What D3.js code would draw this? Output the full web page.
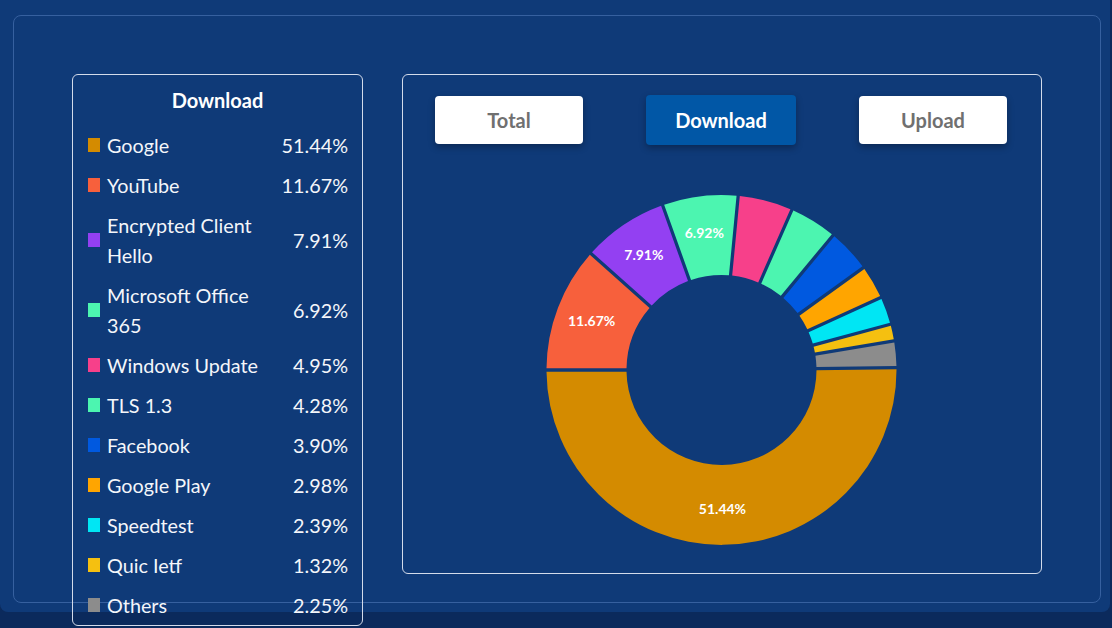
<!DOCTYPE html>
<html>
<head>
<meta charset="utf-8">
<script src="https://cdn.jsdelivr.net/npm/d3@7"></script>
<style>
  body { margin: 0; width: 1112px; height: 628px; background: #0b2a5c; font-family: Lato, "Open Sans", sans-serif; overflow: hidden; position: relative; }
  .card { position: absolute; left: 0; top: 0; width: 1110px; height: 612px; background: #0f3a78; border-radius: 0 0 8px 8px; }
  .inner { position: absolute; left: 13px; top: 15px; width: 1088px; height: 588px; border: 1px solid #36609f; border-radius: 8px; box-sizing: border-box; }
  .legend { position: absolute; left: 72px; top: 74px; width: 291px; height: 552px; border: 1px solid #d3dbea; border-radius: 6px; box-sizing: border-box; color: #f4f6fa; }
  .legend .title { text-align: center; font-weight: 700; font-size: 20px; line-height: 30px; margin-top: 10px; margin-bottom: 15px; color: #fff; }
  .legend .row { display: flex; align-items: center; margin-bottom: 10px; font-size: 19.8px; line-height: 30px; }
  .legend .sw { width: 12px; height: 14px; margin-left: 15px; margin-right: 7px; flex: none; }
  .legend .name { width: 166px; flex: none; }
  .legend .val { flex: 1; text-align: right; padding-right: 14px; }
  .chartbox { position: absolute; left: 402px; top: 74px; width: 640px; height: 500px; border: 1px solid #d3dbea; border-radius: 6px; box-sizing: border-box; }
  .btn { position: absolute; display: flex; align-items: center; justify-content: center; font-weight: 700; font-size: 20px; border-radius: 4px; box-shadow: 0 3px 7px rgba(0,0,0,0.3); background: #fff; color: #707070; }
  .btn.active { background: #0157a6; color: #fff; }
  svg { position: absolute; left: 0; top: 0; }
</style>
</head>
<body>
<div class="card"></div>
<div class="inner"></div>
<div class="legend"></div>
<div class="chartbox"></div>
<script>
const categories = ["Google", "YouTube", "Encrypted Client Hello", "Microsoft Office 365", "Windows Update", "TLS 1.3", "Facebook", "Google Play", "Speedtest", "Quic Ietf", "Others"];
const values = [51.44, 11.67, 7.91, 6.92, 4.95, 4.28, 3.90, 2.98, 2.39, 1.32, 2.25];
const colors = ["#d48b00", "#f7603c", "#9340f2", "#4cf5b0", "#f7408a", "#4cf5b0", "#0059e0", "#ffa500", "#00e6f4", "#f5c010", "#8c8c8c"];
const buttons = ["Total", "Download", "Upload"];
const activeButton = "Download";

const data = categories.map((c, i) => ({ name: c, value: values[i], color: colors[i] }));

// Legend
const legend = d3.select(".legend");
legend.append("div").attr("class", "title").text(activeButton);
const rows = legend.selectAll(".row")
    .data(data)
    .enter()
    .append("div")
    .attr("class", "row");
rows.append("div").attr("class", "sw").style("background", d => d.color);
rows.append("div").attr("class", "name").text(d => d.name);
rows.append("div").attr("class", "val").text(d => d.value.toFixed(2) + "%");

// Buttons
const btnPos = [
    { x: 435, y: 96, w: 148, h: 48 },
    { x: 646, y: 95, w: 150, h: 50 },
    { x: 859, y: 96, w: 148, h: 48 }
];
d3.select("body").selectAll(".btn")
    .data(buttons)
    .enter()
    .append("div")
    .attr("class", d => "btn" + (d === activeButton ? " active" : ""))
    .style("left", (d, i) => btnPos[i].x + "px")
    .style("top", (d, i) => btnPos[i].y + "px")
    .style("width", (d, i) => btnPos[i].w + "px")
    .style("height", (d, i) => btnPos[i].h + "px")
    .text(d => d);

// Donut
const svg = d3.select("body").append("svg")
    .attr("width", 1112)
    .attr("height", 628);

const cx = 721.5, cy = 370, outerR = 175, innerR = 95;
const pad = 0.0164;
const total = d3.sum(values);
// Google ends at the 9 o'clock position, the rest run clockwise from there
const googleAngle = (2 * Math.PI - values.length * pad) * values[0] / total + pad;
const start = 1.5 * Math.PI - googleAngle;

const pie = d3.pie()
    .sort(null)
    .value(d => d.value)
    .padAngle(pad)
    .startAngle(start)
    .endAngle(start + 2 * Math.PI);

const arc = d3.arc().innerRadius(innerR).outerRadius(outerR);
const labelArc = d3.arc().innerRadius(139).outerRadius(139);

const g = svg.append("g").attr("transform", `translate(${cx},${cy})`);
const arcs = pie(data);

g.selectAll("path")
    .data(arcs)
    .enter()
    .append("path")
    .attr("d", arc)
    .attr("fill", d => d.data.color);

g.selectAll("text")
    .data(arcs.filter(d => d.data.value > 5))
    .enter()
    .append("text")
    .attr("transform", d => `translate(${labelArc.centroid(d)})`)
    .attr("text-anchor", "middle")
    .attr("dominant-baseline", "central")
    .attr("font-size", "14px")
    .attr("font-weight", "bold")
    .attr("fill", "#ffffff")
    .text(d => d.data.value.toFixed(2) + "%");
</script>
</body>
</html>
